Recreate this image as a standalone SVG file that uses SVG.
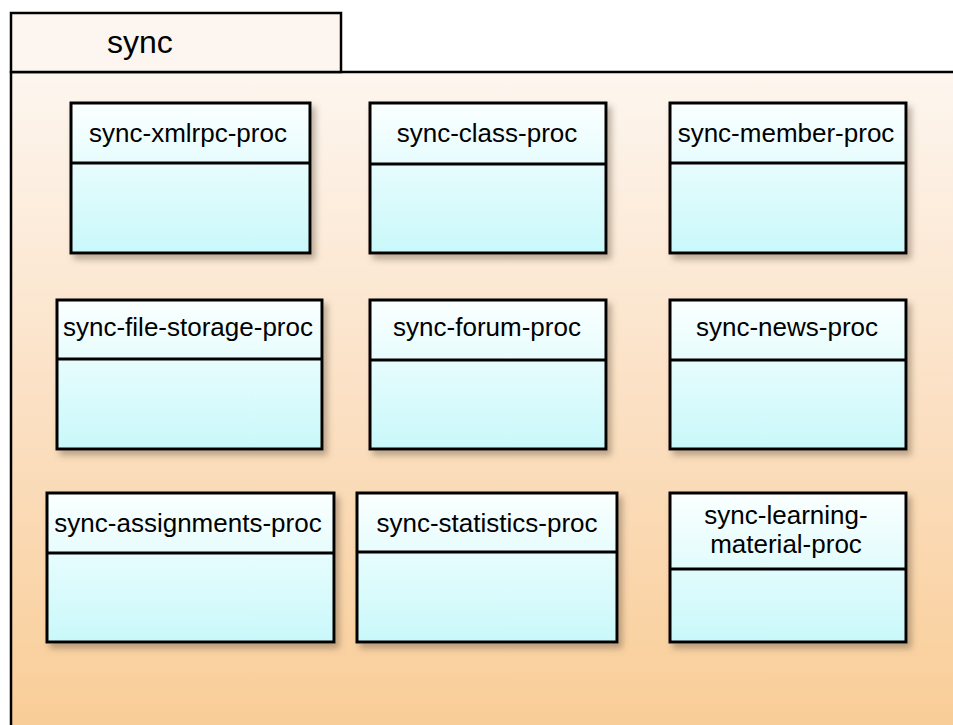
<svg xmlns="http://www.w3.org/2000/svg" width="953" height="725" viewBox="0 0 953 725">
  <defs>
    <linearGradient id="pkgBody" x1="0" y1="0" x2="0" y2="1">
      <stop offset="0" stop-color="#fdf6ef"/>
      <stop offset="0.5" stop-color="#fbe0c3"/>
      <stop offset="1" stop-color="#f9cc95"/>
    </linearGradient>
    <linearGradient id="classFill" x1="0" y1="0" x2="0" y2="1">
      <stop offset="0" stop-color="#fbffff"/>
      <stop offset="1" stop-color="#c9f8fa"/>
    </linearGradient>
    <filter id="shadow" x="-10%" y="-10%" width="125%" height="130%">
      <feGaussianBlur in="SourceAlpha" stdDeviation="3"/>
      <feOffset dx="4" dy="5" result="b"/>
      <feFlood flood-color="#6b5a48" flood-opacity="0.45"/>
      <feComposite in2="b" operator="in"/>
      <feMerge>
        <feMergeNode/>
        <feMergeNode in="SourceGraphic"/>
      </feMerge>
    </filter>
    <style>
      .pkg { stroke: #000; stroke-width: 2.5; }
      .box { fill: url(#classFill); stroke: #000; stroke-width: 3; filter: url(#shadow); }
      .div { stroke: #000; stroke-width: 3; }
      .lbl { font-family: "Liberation Sans", Arial, sans-serif; font-size: 26px; fill: #000; text-anchor: middle; }
      .title { font-family: "Liberation Sans", Arial, sans-serif; font-size: 32px; fill: #000; }
    </style>
  </defs>

  <rect width="953" height="725" fill="#ffffff"/>

  <!-- package "sync" -->
  <g id="pkg-sync">
    <rect class="pkg" x="11" y="72" width="960" height="670" fill="url(#pkgBody)"/>
    <rect class="pkg" x="11" y="13" width="330" height="59" fill="#fdf6f0"/>
    <text class="title" x="107" y="53">sync</text>
  </g>

  <!-- row 1 -->
  <g id="sync-xmlrpc-proc">
    <rect class="box" x="71" y="103" width="239" height="150"/>
    <line class="div" x1="71" y1="163" x2="310" y2="163"/>
    <text class="lbl" x="188" y="142">sync-xmlrpc-proc</text>
  </g>
  <g id="sync-class-proc">
    <rect class="box" x="370" y="103" width="236" height="150"/>
    <line class="div" x1="370" y1="164" x2="606" y2="164"/>
    <text class="lbl" x="487" y="142">sync-class-proc</text>
  </g>
  <g id="sync-member-proc">
    <rect class="box" x="670" y="103" width="236" height="150"/>
    <line class="div" x1="670" y1="163" x2="906" y2="163"/>
    <text class="lbl" x="786" y="142">sync-member-proc</text>
  </g>

  <!-- row 2 -->
  <g id="sync-file-storage-proc">
    <rect class="box" x="57" y="300" width="265" height="149"/>
    <line class="div" x1="57" y1="359" x2="322" y2="359"/>
    <text class="lbl" x="188" y="336">sync-file-storage-proc</text>
  </g>
  <g id="sync-forum-proc">
    <rect class="box" x="370" y="300" width="236" height="149"/>
    <line class="div" x1="370" y1="360" x2="606" y2="360"/>
    <text class="lbl" x="487" y="336">sync-forum-proc</text>
  </g>
  <g id="sync-news-proc">
    <rect class="box" x="670" y="300" width="236" height="149"/>
    <line class="div" x1="670" y1="360" x2="906" y2="360"/>
    <text class="lbl" x="787" y="336">sync-news-proc</text>
  </g>

  <!-- row 3 -->
  <g id="sync-assignments-proc">
    <rect class="box" x="47" y="493" width="287" height="149"/>
    <line class="div" x1="47" y1="553" x2="334" y2="553"/>
    <text class="lbl" x="188" y="532">sync-assignments-proc</text>
  </g>
  <g id="sync-statistics-proc">
    <rect class="box" x="357" y="493" width="260" height="149"/>
    <line class="div" x1="357" y1="552" x2="617" y2="552"/>
    <text class="lbl" x="487" y="532">sync-statistics-proc</text>
  </g>
  <g id="sync-learning-material-proc">
    <rect class="box" x="670" y="493" width="236" height="149"/>
    <line class="div" x1="670" y1="569" x2="906" y2="569"/>
    <text class="lbl" x="786" y="524">sync-learning-</text>
    <text class="lbl" x="786" y="553">material-proc</text>
  </g>

  <!-- no connectors in this diagram -->
  <g id="connectors"/>
</svg>
